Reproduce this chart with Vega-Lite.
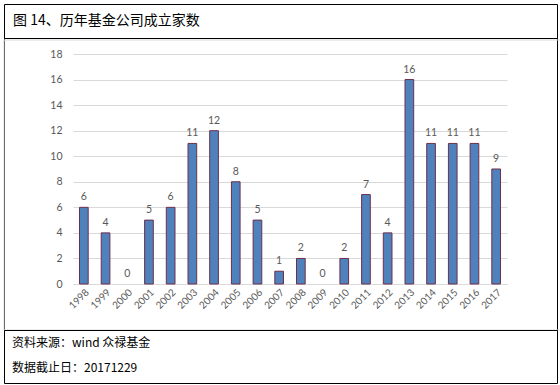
{
  "$schema": "https://vega.github.io/schema/vega-lite/v6.json",
  "padding": {"left": 3, "top": 3, "right": 3, "bottom": 3},
  "background": "white",
  "spacing": 0,
  "bounds": "flush",
  "config": {"view": {"stroke": "#000000", "strokeWidth": 1}, "concat": {"spacing": 0}},
  "datasets": {
    "funds": [
      {"year": "1998", "count": 6},
      {"year": "1999", "count": 4},
      {"year": "2000", "count": 0},
      {"year": "2001", "count": 5},
      {"year": "2002", "count": 6},
      {"year": "2003", "count": 11},
      {"year": "2004", "count": 12},
      {"year": "2005", "count": 8},
      {"year": "2006", "count": 5},
      {"year": "2007", "count": 1},
      {"year": "2008", "count": 2},
      {"year": "2009", "count": 0},
      {"year": "2010", "count": 2},
      {"year": "2011", "count": 7},
      {"year": "2012", "count": 4},
      {"year": "2013", "count": 16},
      {"year": "2014", "count": 11},
      {"year": "2015", "count": 11},
      {"year": "2016", "count": 11},
      {"year": "2017", "count": 9}
    ]
  },
  "vconcat": [
    {
      "width": 553,
      "height": 34,
      "data": {"values": [{"title": "图 14、历年基金公司成立家数"}]},
      "mark": {"type": "text", "align": "left", "baseline": "middle", "dx": 9, "fontSize": 14, "font": "Noto Sans CJK SC", "color": "#000000"},
      "encoding": {
        "x": {"datum": 0, "type": "quantitative", "scale": {"domain": [0, 1]}, "axis": null},
        "text": {"field": "title"}
      }
    },
    {
      "width": 553,
      "height": 292,
      "layer": [
        {
          "data": {"values": [{}]},
          "mark": {"type": "rect", "fill": "transparent", "stroke": "#d9d9d9", "strokeWidth": 1, "xOffset": 37, "x2Offset": -36, "yOffset": 2, "y2Offset": -2}
        },
        {
          "data": {"name": "funds"},
          "transform": [{"filter": "datum.count > 0"}],
          "mark": {"type": "bar", "fill": "#4f81bd", "stroke": "#6e2f4c", "strokeWidth": 1},
          "encoding": {
            "x": {
              "field": "year", "type": "ordinal",
              "scale": {"range": [69, 503], "paddingInner": 0.6, "paddingOuter": 0.3},
              "axis": {"orient": "bottom", "offset": -46, "title": null, "labelAngle": -45, "domain": true, "domainColor": "#d9d9d9", "ticks": false, "labelColor": "#595959", "labelFontSize": 10, "labelFont": "Lato", "labelPadding": 3, "grid": false, "labelOverlap": false}
            },
            "y": {
              "field": "count", "type": "quantitative",
              "scale": {"domain": [0, 18], "range": [246, 16], "nice": false},
              "axis": {"orient": "left", "offset": -63, "title": null, "values": [0, 2, 4, 6, 8, 10, 12, 14, 16, 18], "grid": true, "gridColor": "#d9d9d9", "domain": false, "ticks": false, "labelPadding": 5, "labelColor": "#595959", "labelFontSize": 10.5, "labelFont": "Lato", "labelOverlap": false}
            }
          }
        },
        {
          "data": {"name": "funds"},
          "mark": {"type": "text", "baseline": "bottom", "dy": -5, "fontSize": 10.5, "font": "Lato", "color": "#595959"},
          "encoding": {
            "x": {
              "field": "year", "type": "ordinal",
              "axis": {"orient": "bottom", "offset": -46, "title": null, "labelAngle": -45, "domain": true, "domainColor": "#d9d9d9", "ticks": false, "labelColor": "#595959", "labelFontSize": 10, "labelFont": "Lato", "labelPadding": 3, "grid": false, "labelOverlap": false}
            },
            "y": {
              "field": "count", "type": "quantitative",
              "axis": {"orient": "left", "offset": -63, "title": null, "values": [0, 2, 4, 6, 8, 10, 12, 14, 16, 18], "grid": true, "gridColor": "#d9d9d9", "domain": false, "ticks": false, "labelPadding": 5, "labelColor": "#595959", "labelFontSize": 10.5, "labelFont": "Lato", "labelOverlap": false}
            },
            "text": {"field": "count", "type": "quantitative"}
          }
        }
      ]
    },
    {
      "width": 553,
      "height": 53,
      "data": {"values": [{"line": "资料来源：wind  众禄基金"}, {"line": "数据截止日：20171229"}]},
      "mark": {"type": "text", "align": "left", "baseline": "middle", "dx": 8, "fontSize": 12, "font": "Noto Sans CJK SC", "color": "#000000"},
      "encoding": {
        "x": {"datum": 0, "type": "quantitative", "scale": {"domain": [0, 1]}, "axis": null},
        "y": {"field": "line", "type": "nominal", "sort": null, "scale": {"type": "point", "padding": 0.56, "align": 0.45}, "axis": null},
        "text": {"field": "line"}
      }
    }
  ]
}
